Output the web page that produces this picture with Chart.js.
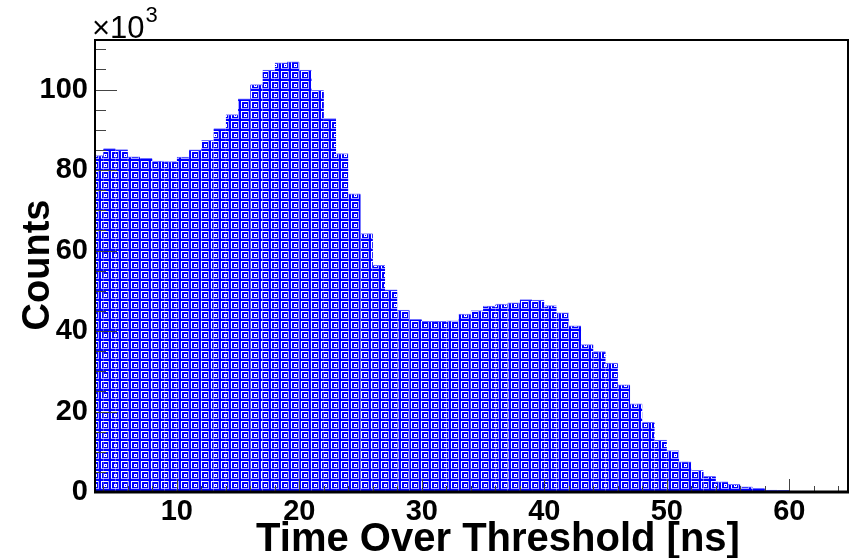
<!DOCTYPE html>
<html>
<head>
<meta charset="utf-8">
<script src="https://cdn.jsdelivr.net/npm/chart.js@4.4.1/dist/chart.umd.min.js"></script>
<style>
  html, body { margin: 0; padding: 0; background: #fff; }
  canvas { display: block; }
</style>
</head>
<body>
<canvas id="tot-chart" width="850" height="558"></canvas>
<script>
// Lower edge of each 1 ns bin
const binStarts = [3, 4, 5, 6, 7, 8, 9, 10, 11, 12, 13, 14, 15, 16, 17, 18, 19, 20, 21, 22,
  23, 24, 25, 26, 27, 28, 29, 30, 31, 32, 33, 34, 35, 36, 37, 38, 39, 40, 41, 42,
  43, 44, 45, 46, 47, 48, 49, 50, 51, 52, 53, 54, 55, 56, 57, 58, 59, 60, 61, 62, 63, 64];
// Counts per bin (x10^3)
const counts = [83.6, 85.3, 85.1, 83.3, 82.9, 82.2, 82.1, 83.2, 85.0, 87.4, 90.3, 93.8, 97.7, 101.2, 104.8, 106.6, 106.9, 104.8, 99.8, 92.8,
  84.1, 74.1, 64.2, 56.3, 50.2, 45.2, 42.9, 42.4, 42.4, 42.5, 44.2, 45.1, 46.2, 46.7, 47.0, 47.8, 47.7, 46.3, 44.5, 41.3,
  36.6, 34.9, 32.0, 26.6, 21.9, 17.3, 12.9, 10.3, 7.5, 5.4, 3.9, 2.5, 1.9, 1.3, 0.9, 0.5, 0.4, 0.25, 0.2, 0.15, 0.1, 0.1];
// Axis labels
const xTickLabels = [10, 20, 30, 40, 50, 60];
const yTickLabels = [0, 20, 40, 60, 80, 100];

const FONT = "'Liberation Sans', Arial, Helvetica, sans-serif";
const canvas = document.getElementById('tot-chart');
const ctx = canvas.getContext('2d');

// ROOT-like hatch: blue cells with white square outlines
function makePattern() {
    const c = document.createElement('canvas');
    c.width = 10; c.height = 10;
    const p = c.getContext('2d');
    p.fillStyle = '#0000ff';
    p.fillRect(0, 0, 10, 10);
    p.fillStyle = '#ffffff';
    p.fillRect(1, 1, 8, 1);
    p.fillRect(1, 1, 1, 8);
    p.fillStyle = '#a8a8ff';
    p.fillRect(1, 8, 8, 1);
    p.fillRect(8, 1, 1, 8);
    p.fillStyle = '#ffffff';
    p.fillRect(4, 4, 3, 3);
    p.fillStyle = '#0000ff';
    p.fillRect(5, 5, 1, 1);
    return ctx.createPattern(c, 'repeat');
}

// Inward ticks, frame and titles, drawn the ROOT way
const rootFrame = {
    id: 'rootFrame',
    afterDatasetsDraw(chart) {
        const { ctx, chartArea: a, scales: { x, y } } = chart;
        ctx.save();
        ctx.strokeStyle = '#444';
        ctx.lineWidth = 1;
        ctx.beginPath();
        for (let v = 4; v <= 64; v += 2) {
            const px = Math.round(x.getPixelForValue(v)) + 0.5;
            const len = v % 10 === 0 ? 13 : 6;
            ctx.moveTo(px, a.bottom);
            ctx.lineTo(px, a.bottom - len);
        }
        for (let v = 5; v <= 110; v += 5) {
            const py = Math.round(y.getPixelForValue(v)) + 0.5;
            const len = v % 20 === 0 ? 22 : 11;
            ctx.moveTo(a.left, py);
            ctx.lineTo(a.left + len, py);
        }
        ctx.stroke();

        ctx.strokeStyle = '#000';
        ctx.lineWidth = 2;
        ctx.strokeRect(a.left, a.top, a.right - a.left, a.bottom - a.top);
        ctx.lineWidth = 3;
        ctx.beginPath();
        ctx.moveTo(a.left - 1, a.bottom);
        ctx.lineTo(a.right + 1, a.bottom);
        ctx.stroke();
        ctx.restore();
    },
    afterDraw(chart) {
        const { ctx } = chart;
        ctx.save();
        ctx.fillStyle = '#000';
        ctx.textBaseline = 'alphabetic';

        // x title
        ctx.font = `bold 40px ${FONT}`;
        ctx.textAlign = 'center';
        ctx.fillText('Time Over Threshold [ns]', 498, 551);

        // y title
        ctx.save();
        ctx.translate(49, 265);
        ctx.rotate(-Math.PI / 2);
        ctx.font = `bold 38px ${FONT}`;
        ctx.fillText('Counts', 0, 0);
        ctx.restore();

        // exponent
        ctx.textAlign = 'left';
        ctx.font = `31px ${FONT}`;
        ctx.fillText('\u00d710', 92, 38);
        const w = ctx.measureText('\u00d710').width;
        ctx.font = `22px ${FONT}`;
        ctx.fillText('3', 92 + w + 1, 22);
        ctx.restore();
    }
};

new Chart(ctx, {
    type: 'bar',
    data: {
        datasets: [{
            data: binStarts.map((b, i) => ({ x: b + 0.5, y: counts[i] })),
            backgroundColor: makePattern(),
            borderColor: '#7070ff',
            borderWidth: { top: 1, left: 0, right: 0, bottom: 0 },
            barPercentage: 1,
            categoryPercentage: 1
        }]
    },
    options: {
        responsive: false,
        animation: false,
        layout: { padding: { top: 40, right: 2, left: 0, bottom: 0 } },
        plugins: {
            legend: { display: false },
            tooltip: { enabled: false }
        },
        scales: {
            x: {
                type: 'linear',
                min: 3.32,
                max: 64.79,
                offset: false,
                grid: { display: false, drawTicks: false },
                border: { display: false },
                afterBuildTicks: s => { s.ticks = xTickLabels.map(v => ({ value: v })); },
                afterFit: s => { s.height = 66; },
                ticks: {
                    padding: 3,
                    color: '#000',
                    maxRotation: 0,
                    autoSkip: false,
                    font: { family: FONT, size: 29, weight: 'bold' }
                }
            },
            y: {
                min: 0,
                max: 112.3,
                grid: { display: false, drawTicks: false },
                border: { display: false },
                afterBuildTicks: s => { s.ticks = yTickLabels.map(v => ({ value: v })); },
                afterFit: s => { s.width = 95; },
                ticks: {
                    padding: 7,
                    color: '#000',
                    font: { family: FONT, size: 29, weight: 'bold' }
                }
            }
        }
    },
    plugins: [rootFrame]
});
</script>
</body>
</html>
